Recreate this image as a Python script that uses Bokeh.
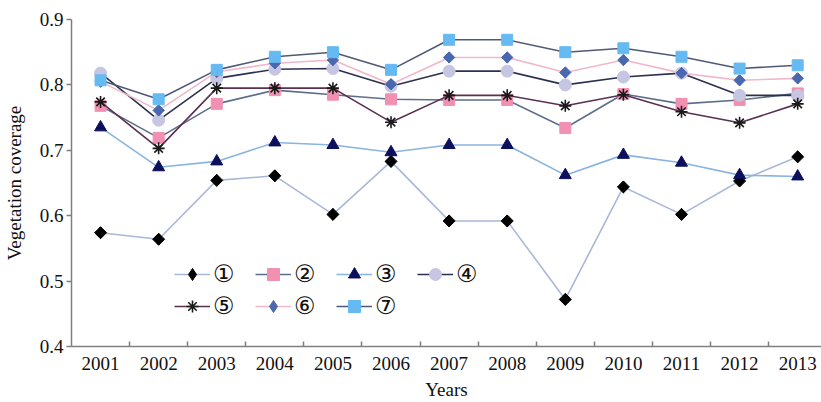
import math
from bokeh.plotting import figure
from bokeh.models import FixedTicker, Legend, LegendItem, ColumnDataSource
from bokeh.embed import file_html
from bokeh.resources import INLINE

years = [2001, 2002, 2003, 2004, 2005, 2006, 2007, 2008, 2009, 2010, 2011, 2012, 2013]
s1 = [0.574, 0.564, 0.654, 0.661, 0.602, 0.683, 0.592, 0.592, 0.472, 0.644, 0.602, 0.653, 0.690]
s2 = [0.768, 0.719, 0.771, 0.792, 0.785, 0.778, 0.777, 0.777, 0.734, 0.786, 0.771, 0.777, 0.787]
s3 = [0.735, 0.674, 0.683, 0.712, 0.708, 0.697, 0.708, 0.708, 0.662, 0.693, 0.681, 0.662, 0.660]
s4 = [0.818, 0.746, 0.810, 0.824, 0.825, 0.798, 0.821, 0.821, 0.800, 0.812, 0.818, 0.784, 0.784]
s5 = [0.774, 0.703, 0.795, 0.795, 0.795, 0.743, 0.784, 0.784, 0.768, 0.785, 0.759, 0.742, 0.771]
s6 = [0.805, 0.761, 0.820, 0.833, 0.838, 0.801, 0.842, 0.842, 0.819, 0.838, 0.818, 0.807, 0.810]
s7 = [0.807, 0.778, 0.823, 0.843, 0.850, 0.823, 0.869, 0.869, 0.850, 0.856, 0.843, 0.825, 0.830]
labels = ["①", "②", "③", "④", "⑤", "⑥", "⑦"]
y_ticks = [0.4, 0.5, 0.6, 0.7, 0.8, 0.9]

series = [s1, s2, s3, s4, s5, s6, s7]
# (line colour, marker, marker colour, marker size, angle)
styles = [
    ("#a9b8d8", "square", "#000000", 8.5, math.pi / 4),
    ("#5c6e8c", "square", "#f290b2", 11, 0),
    ("#8ab4e0", "triangle", "#0c0f5c", 12, 0),
    ("#2c3050", "circle", "#c6c6e2", 12, 0),
    ("#5a3050", "asterisk", "#1a1a1a", 12, 0),
    ("#f0b8c8", "square", "#4a68b0", 8, math.pi / 4),
    ("#505a78", "square", "#66baf2", 11, 0),
]

p = figure(width=821, height=402, output_backend="svg", toolbar_location=None,
           x_range=(2000.5, 2013.41), y_range=(0.4, 0.9),
           min_border_left=70, min_border_top=19, min_border_right=0, min_border_bottom=54)
p.outline_line_color = None
p.xgrid.grid_line_color = None
p.ygrid.grid_line_color = None

items = []
for vals, (lc, mk, fc, sz, ang), lab in zip(series, styles, labels):
    src = ColumnDataSource(dict(x=years, y=vals))
    lr = p.line("x", "y", source=src, line_color=lc, line_width=1.6)
    rends = [lr]
    if ang != 0:
        # diamond marker (used by the legend, which never rotates markers),
        # covered in the plot by a rotated square of the same colour
        dr = p.scatter("x", "y", source=src, marker="diamond", size=sz * 1.35,
                       fill_color=fc, line_color=fc)
        rends.append(dr)
    if mk == "asterisk":
        sr = p.scatter("x", "y", source=src, marker=mk, size=sz, line_color=fc, line_width=1.6)
    else:
        sr = p.scatter("x", "y", source=src, marker=mk, size=sz, fill_color=fc,
                       line_color=fc, angle=ang)
    if ang == 0:
        rends.append(sr)
    items.append(LegendItem(label=lab, renderers=rends))

serif = "Liberation Serif"
p.xaxis.ticker = FixedTicker(ticks=years, minor_ticks=[y + 0.5 for y in years[:-1]])
p.xaxis.major_tick_in = 0
p.xaxis.major_tick_out = 0
p.xaxis.minor_tick_in = 5
p.xaxis.minor_tick_out = 0
p.xaxis.minor_tick_line_color = "#7f7f7f"
p.xaxis.minor_tick_line_width = 1.5
p.xaxis.major_label_standoff = 10
p.xaxis.axis_label = "Years"
p.xaxis.axis_label_standoff = 6

p.yaxis.ticker = FixedTicker(ticks=y_ticks)
p.yaxis.minor_tick_line_color = None
p.yaxis.major_tick_in = 0
p.yaxis.major_tick_out = 5
p.yaxis.major_label_standoff = 3
p.yaxis.axis_label = "Vegetation coverage"
p.yaxis.axis_label_standoff = 12

for ax in (p.xaxis, p.yaxis):
    ax.axis_line_color = "#7f7f7f"
    ax.axis_line_width = 1.5
    ax.major_tick_line_color = "#7f7f7f"
    ax.major_tick_line_width = 1.5
    ax.major_label_text_font = serif
    ax.major_label_text_font_size = "19px"
    ax.major_label_text_color = "#111111"
    ax.axis_label_text_font = serif
    ax.axis_label_text_font_size = "19px"
    ax.axis_label_text_font_style = "normal"
    ax.axis_label_text_color = "#111111"

legend = Legend(items=items, location=(103, 25), orientation="horizontal", ncols=4,
                glyph_width=36, glyph_height=30, label_standoff=3, label_width=40,
                label_height=20, spacing=2, padding=0, margin=0,
                border_line_color=None, background_fill_alpha=0,
                label_text_font="DejaVu Sans", label_text_font_size="24px",
                label_text_color="#111111")
p.add_layout(legend, "center")

open("out.html", "w").write(file_html(p, INLINE))
